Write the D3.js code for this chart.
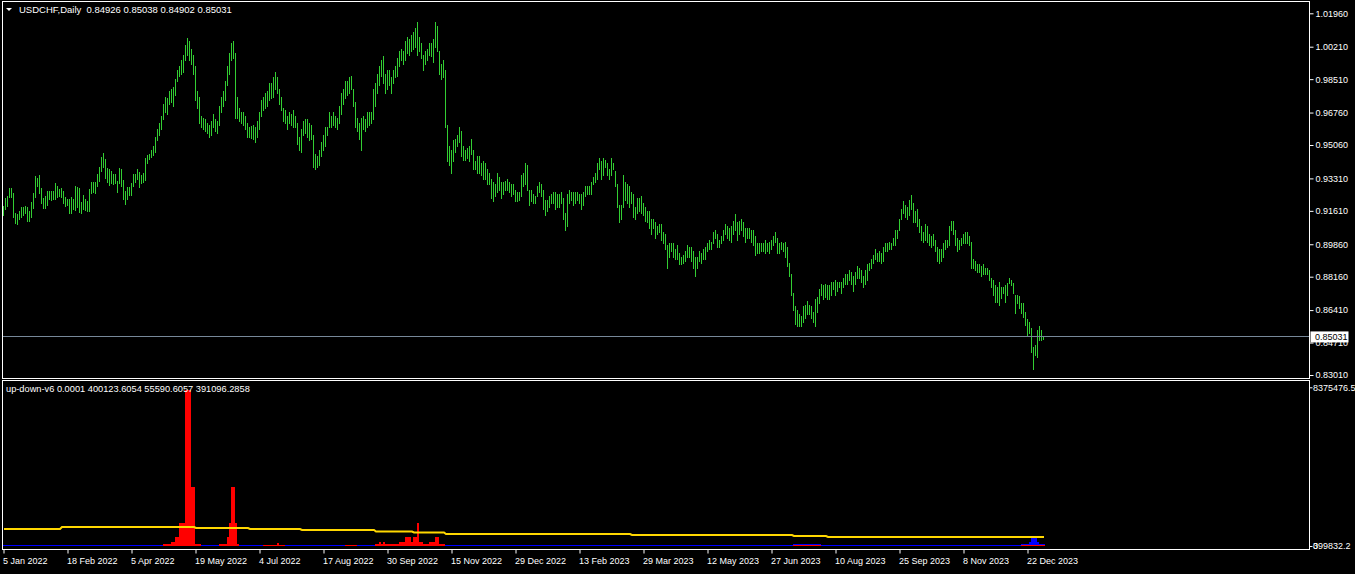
<!DOCTYPE html>
<html><head><meta charset="utf-8">
<script src="https://cdn.jsdelivr.net/npm/d3@7"></script>
<style>
body{margin:0;background:#000;overflow:hidden}
svg text{font-family:"Liberation Sans",Arial,sans-serif;font-size:9px;fill:#fff;white-space:pre}
</style></head>
<body><svg id="c" width="1355" height="574"></svg>
<script>
// ---------- DATA ----------
const symbolTitle = "USDCHF,Daily";
const lastOHLC = ["0.84926","0.85038","0.84902","0.85031"];
const lastClose = 0.85031;
const priceTicks = [1.01960,1.00210,0.98510,0.96760,0.95060,0.93310,0.91610,0.89860,0.88160,0.86410,0.84710,0.83010];
const dateLabels = ["5 Jan 2022","18 Feb 2022","5 Apr 2022","19 May 2022","4 Jul 2022","17 Aug 2022","30 Sep 2022","15 Nov 2022","29 Dec 2022","13 Feb 2023","29 Mar 2023","12 May 2023","27 Jun 2023","10 Aug 2023","25 Sep 2023","8 Nov 2023","22 Dec 2023"];
const dateLabelBars = [0,32,64,96,128,160,192,224,256,288,320,352,384,416,448,480,512];
// daily [low, high], one per bar
const barLowHigh = [
[0.9139,0.9186],[0.9171,0.9228],[0.9186,0.9239],
[0.9234,0.9281],[0.9232,0.9280],[0.9129,0.9255],[0.9097,0.9150],[0.9092,0.9145],
[0.9118,0.9160],[0.9129,0.9181],[0.9139,0.9182],[0.9150,0.9186],[0.9108,0.9181],
[0.9108,0.9160],[0.9129,0.9207],[0.9176,0.9255],[0.9234,0.9344],[0.9291,0.9333],
[0.9255,0.9349],[0.9202,0.9281],[0.9176,0.9228],[0.9176,0.9239],[0.9192,0.9265],
[0.9223,0.9265],[0.9220,0.9263],[0.9224,0.9266],[0.9223,0.9307],[0.9234,0.9291],
[0.9239,0.9276],[0.9234,0.9281],[0.9202,0.9265],[0.9186,0.9234],[0.9192,0.9223],
[0.9150,0.9223],[0.9150,0.9234],[0.9171,0.9223],[0.9165,0.9291],[0.9181,0.9286],
[0.9155,0.9281],[0.9150,0.9207],[0.9171,0.9244],[0.9165,0.9223],[0.9160,0.9213],
[0.9160,0.9276],[0.9255,0.9312],[0.9260,0.9312],[0.9255,0.9310],[0.9291,0.9354],
[0.9317,0.9391],[0.9370,0.9443],[0.9391,0.9464],[0.9333,0.9433],[0.9312,0.9385],
[0.9296,0.9380],[0.9307,0.9370],[0.9302,0.9354],[0.9307,0.9352],[0.9260,0.9317],
[0.9307,0.9385],[0.9291,0.9380],[0.9223,0.9323],[0.9197,0.9265],[0.9223,0.9286],
[0.9244,0.9286],[0.9244,0.9307],[0.9291,0.9354],[0.9312,0.9354],[0.9328,0.9380],
[0.9286,0.9365],[0.9307,0.9349],[0.9312,0.9359],[0.9323,0.9438],[0.9412,0.9454],
[0.9433,0.9459],[0.9443,0.9480],[0.9454,0.9501],[0.9470,0.9550],[0.9530,0.9590],
[0.9560,0.9620],[0.9590,0.9660],[0.9640,0.9720],[0.9680,0.9760],[0.9670,0.9750],
[0.9720,0.9790],[0.9730,0.9800],[0.9710,0.9810],[0.9770,0.9850],[0.9840,0.9900],
[0.9870,0.9920],[0.9880,0.9950],[0.9890,0.9980],[0.9950,1.0030],[0.9980,1.0064],
[0.9950,1.0050],[0.9930,1.0010],[0.9880,0.9980],[0.9740,0.9920],[0.9700,0.9790],
[0.9620,0.9760],[0.9600,0.9660],[0.9590,0.9650],[0.9580,0.9640],[0.9570,0.9620],
[0.9550,0.9610],[0.9560,0.9630],[0.9600,0.9670],[0.9580,0.9640],[0.9570,0.9630],
[0.9610,0.9710],[0.9680,0.9760],[0.9710,0.9790],[0.9740,0.9840],[0.9820,0.9920],
[0.9880,0.9990],[0.9950,1.0040],[0.9960,1.0050],[0.9650,0.9990],[0.9650,0.9760],
[0.9630,0.9700],[0.9620,0.9680],[0.9610,0.9680],[0.9590,0.9660],[0.9550,0.9620],
[0.9550,0.9600],[0.9545,0.9605],[0.9540,0.9610],[0.9520,0.9600],[0.9550,0.9630],
[0.9590,0.9680],[0.9660,0.9740],[0.9690,0.9760],[0.9700,0.9780],[0.9710,0.9790],
[0.9740,0.9830],[0.9750,0.9830],[0.9760,0.9860],[0.9800,0.9889],[0.9780,0.9860],
[0.9720,0.9800],[0.9690,0.9760],[0.9630,0.9700],[0.9620,0.9690],[0.9590,0.9660],
[0.9620,0.9680],[0.9610,0.9670],[0.9600,0.9690],[0.9600,0.9660],[0.9510,0.9620],
[0.9480,0.9550],[0.9470,0.9590],[0.9560,0.9630],[0.9570,0.9640],[0.9550,0.9640],
[0.9530,0.9620],[0.9540,0.9610],[0.9390,0.9560],[0.9380,0.9460],[0.9390,0.9450],
[0.9400,0.9480],[0.9450,0.9520],[0.9480,0.9560],[0.9500,0.9600],[0.9560,0.9600],
[0.9600,0.9680],[0.9600,0.9660],[0.9610,0.9680],[0.9600,0.9660],[0.9590,0.9650],
[0.9620,0.9710],[0.9670,0.9780],[0.9720,0.9800],[0.9750,0.9840],[0.9770,0.9840],
[0.9780,0.9860],[0.9800,0.9870],[0.9710,0.9800],[0.9600,0.9730],[0.9580,0.9650],
[0.9540,0.9620],[0.9480,0.9650],[0.9590,0.9660],[0.9580,0.9640],[0.9600,0.9680],
[0.9610,0.9680],[0.9620,0.9680],[0.9640,0.9800],[0.9710,0.9830],[0.9780,0.9880],
[0.9820,0.9920],[0.9870,0.9950],[0.9830,0.9970],[0.9780,0.9880],[0.9800,0.9900],
[0.9820,0.9900],[0.9780,0.9860],[0.9830,0.9900],[0.9860,0.9920],[0.9870,0.9960],
[0.9920,1.0000],[0.9950,1.0010],[0.9930,1.0000],[0.9950,1.0050],[0.9990,1.0070],
[0.9980,1.0060],[1.0000,1.0080],[1.0010,1.0100],[1.0020,1.0120],[0.9980,1.0148],
[1.0000,1.0070],[0.9960,1.0040],[0.9900,0.9980],[0.9930,1.0000],[0.9950,1.0010],
[0.9980,1.0040],[0.9970,1.0040],[0.9940,1.0060],[1.0020,1.0148],[1.0000,1.0130],
[0.9880,1.0000],[0.9850,0.9930],[0.9860,0.9950],[0.9600,0.9900],[0.9420,0.9610],
[0.9400,0.9500],[0.9360,0.9480],[0.9420,0.9530],[0.9470,0.9540],[0.9500,0.9560],
[0.9520,0.9600],[0.9450,0.9580],[0.9430,0.9500],[0.9430,0.9480],[0.9440,0.9490],
[0.9420,0.9500],[0.9460,0.9540],[0.9380,0.9480],[0.9380,0.9420],[0.9360,0.9450],
[0.9360,0.9450],[0.9350,0.9410],[0.9330,0.9420],[0.9330,0.9410],[0.9300,0.9380],
[0.9300,0.9360],[0.9230,0.9330],[0.9210,0.9310],[0.9240,0.9300],[0.9260,0.9360],
[0.9270,0.9340],[0.9230,0.9310],[0.9250,0.9310],[0.9270,0.9320],[0.9270,0.9330],
[0.9260,0.9310],[0.9240,0.9300],[0.9250,0.9300],[0.9210,0.9270],[0.9210,0.9260],
[0.9220,0.9260],[0.9240,0.9350],[0.9290,0.9360],[0.9300,0.9410],[0.9270,0.9400],
[0.9190,0.9270],[0.9210,0.9270],[0.9200,0.9250],[0.9200,0.9240],[0.9240,0.9290],
[0.9260,0.9310],[0.9240,0.9300],[0.9170,0.9270],[0.9140,0.9220],[0.9160,0.9220],
[0.9180,0.9240],[0.9200,0.9250],[0.9200,0.9260],[0.9170,0.9260],[0.9180,0.9250],
[0.9180,0.9250],[0.9200,0.9260],[0.9120,0.9230],[0.9060,0.9150],[0.9080,0.9250],
[0.9200,0.9270],[0.9220,0.9260],[0.9190,0.9260],[0.9200,0.9260],[0.9220,0.9260],
[0.9200,0.9250],[0.9170,0.9250],[0.9190,0.9260],[0.9240,0.9290],[0.9250,0.9290],
[0.9250,0.9290],[0.9250,0.9310],[0.9300,0.9340],[0.9310,0.9360],[0.9330,0.9410],
[0.9380,0.9440],[0.9330,0.9420],[0.9350,0.9440],[0.9390,0.9430],[0.9350,0.9410],
[0.9330,0.9380],[0.9350,0.9440],[0.9380,0.9410],[0.9290,0.9370],[0.9180,0.9300],
[0.9100,0.9190],[0.9120,0.9190],[0.9180,0.9350],[0.9220,0.9310],[0.9200,0.9300],
[0.9180,0.9290],[0.9200,0.9260],[0.9130,0.9250],[0.9120,0.9180],[0.9150,0.9230],
[0.9160,0.9230],[0.9150,0.9240],[0.9140,0.9200],[0.9110,0.9180],[0.9100,0.9160],
[0.9070,0.9160],[0.9040,0.9120],[0.9070,0.9120],[0.9020,0.9100],[0.9040,0.9080],
[0.9050,0.9090],[0.9010,0.9090],[0.8990,0.9050],[0.8960,0.9040],[0.8860,0.8980],
[0.8920,0.8990],[0.8950,0.8990],[0.8920,0.8990],[0.8910,0.8960],[0.8910,0.8980],
[0.8880,0.8940],[0.8880,0.8920],[0.8890,0.8930],[0.8900,0.8950],[0.8920,0.8980],
[0.8920,0.8970],[0.8900,0.8970],[0.8860,0.8950],[0.8820,0.8920],[0.8860,0.8920],
[0.8900,0.8950],[0.8890,0.8940],[0.8910,0.8960],[0.8910,0.8970],[0.8950,0.8990],
[0.8960,0.9010],[0.8960,0.9000],[0.8990,0.9050],[0.9020,0.9060],[0.8970,0.9040],
[0.8970,0.9010],[0.8990,0.9030],[0.9010,0.9060],[0.9040,0.9090],[0.9020,0.9080],
[0.9010,0.9070],[0.9000,0.9080],[0.9040,0.9110],[0.9060,0.9147],[0.9010,0.9100],
[0.9040,0.9110],[0.9060,0.9120],[0.9030,0.9100],[0.9000,0.9070],[0.9020,0.9070],
[0.9020,0.9070],[0.9000,0.9060],[0.8980,0.9060],[0.8930,0.9030],[0.8940,0.8990],
[0.8940,0.8990],[0.8950,0.8990],[0.8950,0.8990],[0.8940,0.9010],[0.8950,0.8990],
[0.8940,0.9000],[0.8960,0.9010],[0.8980,0.9030],[0.9000,0.9050],[0.8940,0.9020],
[0.8940,0.8990],[0.8960,0.9000],[0.8950,0.8990],[0.8920,0.9000],[0.8870,0.8970],
[0.8820,0.8890],[0.8720,0.8830],[0.8640,0.8730],[0.8570,0.8660],[0.8560,0.8640],
[0.8560,0.8620],[0.8560,0.8610],[0.8580,0.8660],[0.8600,0.8670],[0.8620,0.8690],
[0.8620,0.8670],[0.8600,0.8660],[0.8580,0.8630],[0.8560,0.8700],[0.8630,0.8710],
[0.8680,0.8750],[0.8720,0.8780],[0.8700,0.8770],[0.8710,0.8780],[0.8700,0.8770],
[0.8700,0.8770],[0.8720,0.8790],[0.8750,0.8790],[0.8720,0.8800],[0.8740,0.8790],
[0.8760,0.8790],[0.8730,0.8790],[0.8760,0.8810],[0.8780,0.8830],[0.8780,0.8830],
[0.8800,0.8850],[0.8780,0.8840],[0.8740,0.8820],[0.8780,0.8840],[0.8810,0.8870],
[0.8810,0.8860],[0.8790,0.8850],[0.8760,0.8820],[0.8780,0.8850],[0.8800,0.8880],
[0.8850,0.8890],[0.8860,0.8910],[0.8890,0.8930],[0.8910,0.8960],[0.8900,0.8940],
[0.8900,0.8950],[0.8890,0.8940],[0.8900,0.8970],[0.8950,0.8990],[0.8950,0.8990],
[0.8960,0.9000],[0.8960,0.8990],[0.8980,0.9020],[0.8980,0.9060],[0.9020,0.9060],
[0.9060,0.9120],[0.9120,0.9170],[0.9150,0.9210],[0.9130,0.9190],[0.9120,0.9180],
[0.9140,0.9220],[0.9170,0.9244],[0.9100,0.9200],[0.9100,0.9160],[0.9080,0.9170],
[0.9050,0.9120],[0.9010,0.9080],[0.9000,0.9050],[0.9010,0.9090],[0.9000,0.9080],
[0.8980,0.9040],[0.8970,0.9030],[0.8980,0.9040],[0.8950,0.9010],[0.8900,0.8970],
[0.8890,0.8960],[0.8900,0.8960],[0.8920,0.8990],[0.8960,0.9010],[0.8970,0.9010],
[0.8980,0.9080],[0.9060,0.9110],[0.9040,0.9110],[0.8980,0.9060],[0.8950,0.9020],
[0.8960,0.9010],[0.8980,0.9020],[0.8990,0.9040],[0.8990,0.9050],[0.8990,0.9050],
[0.8980,0.9030],[0.8860,0.9000],[0.8860,0.8910],[0.8850,0.8900],[0.8840,0.8880],
[0.8840,0.8880],[0.8820,0.8870],[0.8830,0.8880],[0.8830,0.8860],[0.8830,0.8860],
[0.8800,0.8850],[0.8764,0.8810],[0.8720,0.8800],[0.8685,0.8773],[0.8685,0.8764],
[0.8668,0.8790],[0.8703,0.8764],[0.8729,0.8764],[0.8685,0.8773],[0.8720,0.8782],
[0.8782,0.8810],[0.8773,0.8800],[0.8729,0.8783],[0.8626,0.8720],[0.8678,0.8720],
[0.8652,0.8715],[0.8624,0.8680],[0.8606,0.8678],[0.8563,0.8633],[0.8511,0.8593],
[0.8519,0.8580],[0.8420,0.8545],[0.8331,0.8449],[0.8406,0.8458],[0.8395,0.8537],
[0.8485,0.8558],[0.8485,0.8537],[0.8490,0.8504]
];
// indicator sub-window
const indName = "up-down-v6";
const indHeaderValues = ["0.0001","400123.6054","55590.6057","391096.2858"];
const indTopLabel = "8375476.5";
const indBottomLabels = ["0","399832.2"];
const indMax = 8375476.5;
// step values as [bar count, value] runs
const redRuns = [[80,0],[4,90000],[2,211000],[2,476000],[3,1216000],[3,8230000],[2,3120000],[3,90000],[9,0],
 [4,90000],[1,476000],[1,1216000],[2,3120000],[1,1216000],[1,90000],[12,0],[7,60000],[1,150000],[3,60000],[30,0],
 [6,60000],[9,0],[2,90000],[1,190000],[1,90000],[1,190000],[7,90000],[3,190000],[3,460000],[1,190000],[2,460000],
 [1,1200000],[2,190000],[3,90000],[3,190000],[2,460000],[3,90000],[174,0],[14,40000],[100,0],[12,40000]];
const blueRuns = [[395,0],[14,100000],[100,0],[4,100000],[1,210000],[3,420000],[1,210000],[3,100000]];
const yellowRuns = [[29,897000],[67,1003000],[27,950000],[26,897000],[37,844000],[19,765000],[16,712000],
 [93,633000],[81,580000],[17,528000],[109,475000]];

// ---------- HELPERS ----------
const expand = runs => runs.flatMap(([n,v]) => Array(n).fill(v));
const redValues = expand(redRuns), blueValues = expand(blueRuns), yellowValues = expand(yellowRuns);
const nBars = barLowHigh.length;

// ---------- DRAW ----------
const svg = d3.select("#c");
svg.append("rect").attr("width",1355).attr("height",574).attr("fill","#000");

const xs = d3.scaleLinear().domain([0, nBars-1]).range([3, 3 + 2*(nBars-1)]);
const yp = d3.scaleLinear().domain([0.8301, 1.0196]).range([375, 13.3]);
const yv = d3.scaleLinear().domain([0, indMax]).range([546, 387.3]);

// frames
svg.append("rect").attr("x",2.5).attr("y",1.5).attr("width",1307).attr("height",377)
  .attr("fill","none").attr("stroke","#fff");
svg.append("rect").attr("x",2.5).attr("y",380.5).attr("width",1307).attr("height",169)
  .attr("fill","none").attr("stroke","#fff");

// price bars
svg.append("g").attr("shape-rendering","crispEdges").selectAll("rect").data(barLowHigh).join("rect")
  .attr("x",(d,i)=>xs(i)).attr("width",1)
  .attr("y",d=>Math.round(yp(d[1])))
  .attr("height",d=>Math.max(1, Math.round(yp(d[0])) - Math.round(yp(d[1])) + 1))
  .attr("fill","#32cd32");

// current price line
svg.append("line").attr("x1",3).attr("x2",1309).attr("y1",Math.round(yp(lastClose))+0.5).attr("y2",Math.round(yp(lastClose))+0.5)
  .attr("stroke","#778899");

// price axis
const pAxis = d3.axisRight(yp).tickValues(priceTicks).tickFormat(d3.format(".5f")).tickSize(4).tickPadding(2);
const pg = svg.append("g").attr("transform","translate(1309.5,0)").call(pAxis);
pg.select(".domain").remove();
pg.selectAll("line").attr("stroke","#fff");
pg.selectAll("text").attr("fill","#fff").style("font-size","9px").style("font-family","Liberation Sans, Arial, sans-serif");

// price label box
const py = yp(lastClose);
svg.append("rect").attr("x",1310.5).attr("y",py-5).attr("width",38).attr("height",11).attr("fill","#fff");
svg.append("text").attr("x",1315).attr("y",py+3.3).style("fill","#000").text(lastClose.toFixed(5));

// header
svg.append("polygon").attr("points","6,8 12,8 9,11").attr("fill","#fff");
svg.append("text").attr("x",19).attr("y",13).style("font-size","9.5px")
  .text(symbolTitle + "  " + lastOHLC.join(" "));

// indicator: zero line (blue)
svg.append("line").attr("x1",xs(0)).attr("x2",xs(nBars-1)+2).attr("y1",yv(0)-0.5).attr("y2",yv(0)-0.5).attr("stroke","#0000ff");
// blue histogram
svg.append("g").attr("shape-rendering","crispEdges").selectAll("rect").data(blueValues).join("rect")
  .attr("x",(d,i)=>xs(i)).attr("width",2)
  .attr("y",d=>Math.round(yv(d))).attr("height",d=>d>0?Math.max(1,yv(0)-Math.round(yv(d))):0)
  .attr("fill","#0000ff");
// red histogram
svg.append("g").attr("shape-rendering","crispEdges").selectAll("rect").data(redValues).join("rect")
  .attr("x",(d,i)=>xs(i)).attr("width",2)
  .attr("y",d=>Math.min(yv(0)-1,Math.round(yv(d)))).attr("height",d=>d>0?Math.max(1,yv(0)-Math.round(yv(d))):0)
  .attr("fill","#ff0000");
// yellow line
svg.append("path").datum(yellowValues)
  .attr("d", d3.line().x((d,i)=>xs(i)+1).y(d=>yv(d)))
  .attr("fill","none").attr("stroke","#ffd700").attr("stroke-width",2);

// indicator header and axis labels
svg.append("text").attr("x",6).attr("y",392).style("font-size","9.25px")
  .text(indName + " " + indHeaderValues.join(" "));
const vAxis = d3.axisRight(yv).tickValues([indMax, 0]).tickFormat(()=>"").tickSize(3);
const vg = svg.append("g").attr("transform","translate(1309.5,0)").call(vAxis);
vg.select(".domain").remove();
vg.selectAll("line").attr("stroke","#fff");
svg.append("text").attr("x",1313).attr("y",yv(indMax)+4).text(indTopLabel);
indBottomLabels.forEach(t => svg.append("text").attr("x",1313).attr("y",549).text(t));

// time axis
const xAxis = d3.axisBottom(xs).tickValues(dateLabelBars).tickFormat((d,i)=>dateLabels[i]).tickSize(4).tickPadding(4);
const xg = svg.append("g").attr("transform","translate(0.5,549.5)").call(xAxis);
xg.select(".domain").remove();
xg.selectAll("line").attr("stroke","#fff");
xg.selectAll("text").attr("fill","#fff").attr("text-anchor","start").attr("dx",-1)
  .style("font-size","9px").style("font-family","Liberation Sans, Arial, sans-serif");
</script></body></html>
